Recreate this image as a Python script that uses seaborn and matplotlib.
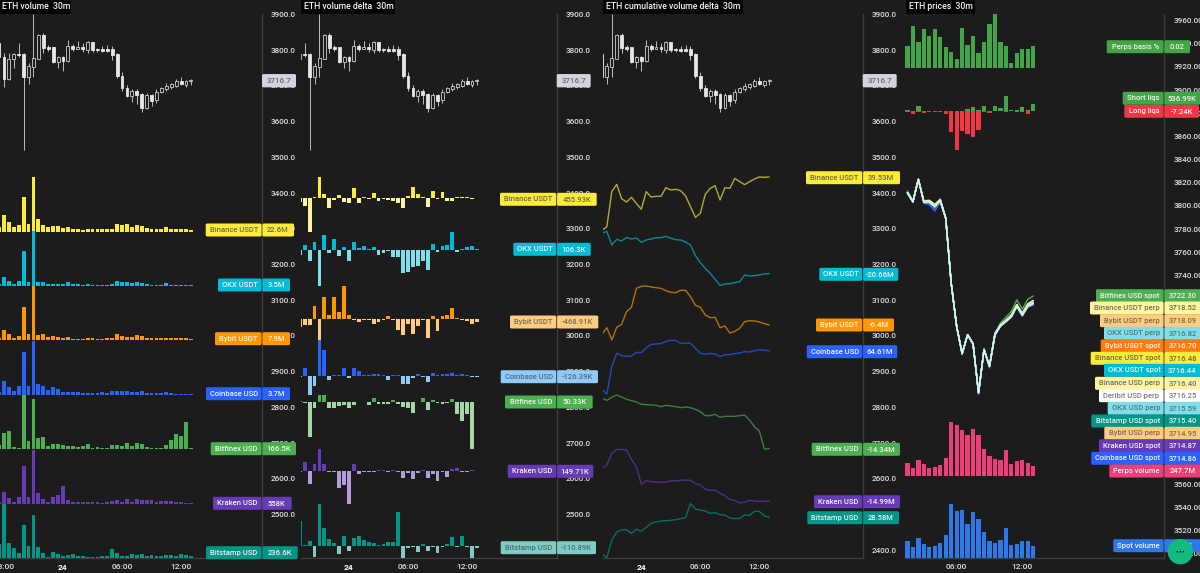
import numpy as np
import pandas as pd
import matplotlib
matplotlib.use("Agg")
import matplotlib.pyplot as plt
from matplotlib import font_manager
from matplotlib.patches import FancyBboxPatch, Circle, Rectangle
import seaborn as sns

# ---------- price candles, half-hour index (0 = midnight on the 24th) ----------
candle_t = list(range(-13, 27))
candle_open = [3821,3782,3720,3775,3790,3790,3726,3754,3777,3843,3808,3808,3768,3782,3770,3812,3805,3810,3801,3822,
               3803,3803,3803,3804,3789,3728,3693,3672,3687,3678,3637,3674,3660,3682,3691,3696,3700,3713,3703,3714]
candle_close = [3780,3721,3775,3789,3786,3726,3756,3778,3843,3806,3805,3767,3782,3771,3812,3805,3809,3803,3822,3801,
                3800,3799,3799,3788,3728,3693,3672,3687,3676,3637,3676,3659,3683,3694,3700,3706,3713,3705,3714,3716.7]
candle_high = [3824,3792,3793,3793,3821,3792,3764,3902,3846,3848,3815,3810,3785,3784,3829,3817,3825,3820,3827,3824,
               3807,3813,3815,3812,3792,3738,3703,3691,3691,3681,3679,3678,3691,3698,3709,3709,3719,3724,3717,3720]
candle_low = [3780,3698,3717,3750,3780,3521,3706,3726,3775,3793,3799,3765,3750,3742,3768,3798,3803,3796,3793,3796,
              3796,3795,3795,3773,3723,3686,3668,3655,3650,3627,3636,3644,3651,3679,3687,3691,3696,3702,3698,3702]

# ---------- traded volume per venue ----------
vol_binance = [52,200,112,52,80,412,92,652,148,80,52,68,68,40,60,36,28,20,36,28,28,28,28,36,88,80,92,60,80,72,40,36,36,36,60,28,28,32,32,22.6]
vol_okx = [10,50,28,8,28,208,24,326,24,22,12,12,12,8,24,10,12,6,10,4,4,4,4,10,28,22,22,18,20,16,8,4,4,4,14,4,4,4,4,3.5]
vol_bybit = [14,60,36,10,24,196,34,326,28,34,20,24,20,12,16,8,6,6,14,12,8,6,10,14,34,24,20,16,30,24,14,12,12,12,14,10,10,10,10,7.9]
vol_coinbase = [10,42,23,13,28,129,27,163,32,27,15,23,17,10,10,10,10,5,7,7,7,8,6,12,12,12,12,10,10,12,7,5,5,7,8,5,4,4,4,3.7]
vol_bitfinex = [650,2350,2650,250,150,8100,1250,7450,1700,1800,500,750,750,600,500,400,300,450,750,200,250,200,200,600,600,500,950,400,850,700,300,100,100,200,650,1350,2200,1950,4000,166.5]
vol_kraken = [1400,7400,3400,1000,4000,23000,4200,32800,6600,3200,1200,4400,5400,10800,2400,1000,1000,1000,1200,1200,1000,800,1000,1600,2200,1400,2800,1400,3200,2200,2200,2400,1000,1600,2000,1600,1200,1400,800,558]
vol_bitstamp = [2050,8200,2200,1550,700,4950,1800,6450,1650,700,200,850,550,300,500,550,300,250,200,200,200,250,250,1400,800,300,250,550,400,650,350,450,250,250,500,450,300,650,400,236.6]

# ---------- volume delta per venue, thousands ----------
delta_t = list(range(-10, 27))
delta_binance = [-2000,-4600,-20000,1000,12600,2600,-6000,-1200,2000,-2400,-3000,6200,-2600,600,-400,3000,-1400,-400,-800,-1600,-2800,-5600,1200,6600,2400,800,-5200,4600,-600,4000,-1600,-1800,1000,600,600,-600,455.93]
delta_okx = [-750,750,-1650,1200,-5350,2300,-500,1600,-900,400,-1650,1200,350,600,150,500,-700,-500,-150,-1000,-1000,-3400,-3250,-2500,-2350,-1650,-3000,850,-250,600,700,2700,-300,150,400,600,106.3]
delta_bybit = [-1250,-900,-900,2000,-3250,3250,600,3250,1100,4900,600,-100,-400,-150,-150,-700,-450,-200,500,-100,-1600,-2400,-700,-2200,-1000,-100,-2800,400,-1800,400,600,1700,200,-100,-300,-700,-468.91]
delta_coinbase = [-150,1200,-2850,-1450,5400,3900,-600,150,100,1200,-250,1200,750,100,100,300,250,100,-600,100,100,-1250,-1250,-250,300,-200,-850,500,200,300,300,400,100,300,200,-150,-126.39]
delta_bitfinex = [125,-25,-2575,-450,550,550,-425,-425,-300,-200,-450,-200,25,25,-200,300,-150,-150,-150,150,-150,-350,-400,-800,25,350,-600,200,-75,-100,-75,225,-875,-1425,-875,-3500,50.33]
delta_kraken = [-200,2700,-4000,2000,6500,2000,-200,-200,-5000,-4300,-10000,2000,-800,-200,-200,-200,400,200,-200,400,-200,-2200,-700,-2400,-700,200,-2000,-1000,-3000,-200,-1800,600,800,-300,-200,200,149.71]
delta_bitstamp = [1500,60,280,-700,2480,1060,400,140,-500,560,-300,460,600,360,240,160,40,120,200,200,2040,-760,-120,-100,-360,120,-300,-100,-460,-100,120,500,-80,600,-60,-760,-110.89]

# ---------- cumulative volume delta per venue, millions ----------
cvd_t = list(range(-8, 27))
cvd_binance = [-40.5,-35,17.5,28.5,7,2,9,0,-9,17.5,9.5,10.5,10.5,23.5,20,21,19,11,-5,-21,-15,13.5,22.5,26.5,5,23.5,22.5,37.5,32.5,28,32.5,36.5,39.5,39,39.53]
cvd_okx = [9.5,11,0.75,5,3.75,6.5,5.25,6,2.75,4.5,5.25,6.25,6.25,7.25,5.75,4.75,4.5,3,0.75,-7.25,-12.5,-16.75,-20.5,-25,-29.5,-28.5,-28.25,-27.5,-26.75,-21.75,-22.5,-22.25,-21.75,-21,-20.66]
cvd_bybit = [-9.2,-7.2,-10.9,-7.1,-6.2,-2.4,-1.1,4.6,5.2,5.3,5,4.8,4.6,3.9,3.4,3.3,4,4,2.1,-0.5,-1.1,-3.4,-4.2,-4.1,-7.2,-6.7,-8.8,-8.3,-7.4,-5.4,-5.1,-5.2,-5.5,-6,-6.4]
cvd_coinbase = [41.4,38.6,55,63,61.6,61.2,61.4,63.6,63.4,66.4,68.4,68.6,68.8,70.2,70.8,70.8,69,69.2,69,66,63,62.4,63,62.6,61,62.2,62.2,62.8,63.2,64,63.8,64.6,65.2,64.8,64.61]
cvd_bitfinex = [0.76,0.16,1.06,1.76,1.16,0.46,0.06,-0.34,-1.04,-1.14,-1.24,-1.34,-1.74,-1.34,-1.54,-1.74,-2.04,-1.84,-2.04,-2.54,-3.24,-4.44,-4.44,-4.04,-4.94,-4.64,-4.64,-4.64,-4.44,-4.24,-5.74,-7.74,-9.04,-14.44,-14.34]
cvd_kraken = [-5.19,-4.19,-0.69,0.41,0.51,0.31,-2.49,-4.69,-9.99,-8.89,-9.19,-9.29,-9.39,-9.29,-8.99,-8.89,-8.79,-8.69,-8.79,-9.79,-10.19,-11.49,-11.79,-11.69,-12.69,-13.39,-14.59,-14.79,-15.59,-15.29,-14.79,-14.99,-15.09,-15.09,-14.99]
cvd_bitstamp = [17.58,16.48,21.78,24.18,24.78,24.88,23.78,24.98,24.38,25.58,26.78,27.18,27.48,27.58,27.68,27.88,28.18,28.48,32.68,31.08,30.78,30.48,29.78,29.98,29.38,29.28,28.38,28.18,28.28,29.28,29.18,30.38,30.38,28.98,28.58]

# ---------- market-wide series on the prices pane ----------
market_t = list(range(3, 27))
basis_pct = [0.0201,0.0378,0.0231,0.0354,0.0285,0.0354,0.0276,0.0186,0.0144,0.0078,0.036,0.0207,0.0285,0.0135,0.0237,0.0399,0.0486,0.0231,0.0201,0.0045,0.0135,0.0174,0.0168,0.02]
short_liqs = [50,25,375,25,25,25,25,25,0,0,0,125,275,50,350,25,350,250,1125,50,100,300,50,536.99]
long_liqs = [-50,-200,-50,-125,-100,-100,-50,-200,-1600,-2900,-1500,-1750,-1950,-1450,-50,-150,-25,-25,-50,-25,-75,-100,-200,-7.24]
perps_volume = [320,200,384,304,192,224,264,432,1296,1232,1096,992,1128,976,640,480,416,400,624,288,368,400,320,247.7]
spot_volume = [159,102,180,129,99,114,135,210,489,426,435,306,414,354,234,156,141,168,276,120,126,153,159,111]

price_bitfinex_spot = [3813,3804.5,3823.5,3803.5,3804,3800,3805,3789,3733,3696,3672.5,3689,3681,3638.5,3676,3662,3690,3699,3704,3709,3719,3711,3719.5,3722.3]
price_binance_usdt_perp = [3811.5,3804,3823,3804,3804.5,3801,3805.5,3789.5,3733.5,3696,3672.6,3689,3681,3639,3676.5,3662,3690,3697.5,3701.5,3706,3715,3707.5,3715.5,3718.52]
price_bybit_usdt_perp = [3811.8,3804,3823,3804.5,3805,3801.5,3806,3790,3733.5,3696,3672.5,3689,3681,3639,3676.5,3662,3690,3697.5,3701.5,3706,3715,3707.5,3715.5,3718.09]
price_okx_usdt_perp = [3811.5,3803.5,3823,3803.5,3803.5,3799.5,3804.5,3789.5,3733.5,3696,3672.5,3689,3681,3638.5,3676,3661.5,3690.5,3697,3700.5,3705,3714,3706.5,3714,3716.82]
price_bybit_usdt_spot = [3811.6,3804,3823,3804,3804,3800,3805,3789.5,3733.5,3696,3672.6,3689,3681,3638.7,3676,3661.6,3690,3697,3700.5,3705,3714,3706.2,3714,3716.7]
price_binance_usdt_spot = [3811.5,3803.8,3823,3803.5,3803.5,3799.5,3804.6,3789.4,3733.4,3696,3672.6,3689,3681,3638.7,3676,3661.6,3689.5,3696.8,3700.4,3704.8,3714,3706,3714,3716.48]
price_okx_usdt_spot = [3811.5,3803.7,3823,3803.2,3803.4,3799.4,3804.6,3789.4,3733.4,3696,3672.6,3689,3681,3638.7,3676,3661.6,3689.2,3696.8,3700.4,3704.7,3713.9,3706,3713.9,3716.44]
price_binance_usd_perp = [3811.6,3804,3823,3803.5,3804,3800,3805,3789.5,3733.5,3696,3672.6,3689,3681,3638.8,3676.2,3661.8,3689.5,3697,3700.6,3704.9,3714,3706.1,3714,3716.4]
price_deribit_usd_perp = [3811.5,3803.7,3823,3803.2,3803.4,3799.4,3804.6,3789.4,3733.4,3696,3672.6,3689,3681,3638.7,3676,3661.6,3689,3696.7,3700.4,3704.7,3713.9,3706,3713.9,3716.25]
price_okx_usd_perp = [3811.4,3803.5,3823,3803,3803.2,3799.2,3804.5,3789.3,3733.3,3696,3672.5,3689,3681,3638.6,3676,3661.5,3688.9,3696.5,3700.2,3704.5,3713.6,3705.7,3713.5,3715.59]
price_bitstamp_spot = [3811,3803.3,3822.8,3802.8,3802.8,3798,3804.2,3789.2,3733.2,3696,3672.4,3688.8,3680.8,3638.5,3675.8,3661.2,3688.6,3696.2,3700,3704.2,3713.2,3705.4,3713.2,3715.4]
price_bybit_usd_perp = [3811.3,3803.4,3822.9,3803,3803,3799.4,3804.3,3789.2,3733.2,3696,3672.4,3688.8,3680.9,3638.5,3675.8,3661.3,3688.7,3696.2,3700,3704.2,3713.2,3705.3,3713,3714.95]
price_kraken_spot = [3811,3803,3822.5,3802.5,3801,3795.5,3803,3789,3733,3695.8,3672.2,3688.5,3680.5,3637,3675.5,3660,3688,3696,3699.8,3704,3713,3705,3712.8,3714.87]
price_coinbase_spot = [3811,3803,3822.6,3802.6,3801.5,3796.5,3803.5,3789,3733,3695.8,3672.2,3688.6,3680.6,3638,3675.6,3661,3688.3,3696,3699.8,3704,3713,3705,3712.8,3714.86]

# ---------- styling ----------
BG = "#1c1c1c"
RULE = "#3c3c3c"
TICK = "#dcdcdc"
sns.set_theme(style="dark", rc={"figure.facecolor": BG, "axes.facecolor": BG, "savefig.facecolor": BG})

installed = {f.name for f in font_manager.fontManager.ttflist}
if "Liberation Sans Narrow" in installed:
    FONT, FS = "Liberation Sans Narrow", 1.0
else:
    FONT, FS = "Roboto", 0.84
plt.rcParams["font.family"] = [FONT, "DejaVu Sans"]
plt.rcParams["font.weight"] = 500

YELLOW, YELLOW_L = "#fdeb3a", "#fff59d"
CYAN, CYAN_L = "#00bcd4", "#80deea"
ORANGE, ORANGE_L = "#ff9800", "#ffcc80"
BLUE, BLUE_L = "#2962ff", "#90caf9"
GREEN, GREEN_L = "#4caf50", "#a5d6a7"
PURPLE, PURPLE_L = "#673ab7", "#b39ddb"
TEAL, TEAL_L = "#009688", "#80cbc4"
DARK_INK, LIGHT_INK = "#6e6b45", "#f2f2f2"

W, H = 1200, 573
fig = plt.figure(figsize=(W / 100, H / 100), dpi=100)


def px_axes(left, top, right, bottom, z=5):
    ax = fig.add_axes([left / W, 1 - bottom / H, (right - left) / W, (bottom - top) / H], zorder=z)
    return ax


def pane(left, top, right, bottom, xlim, ylim):
    ax = px_axes(left, top, right, bottom, z=10)
    ax.patch.set_visible(False)
    ax.set_axis_off()
    ax.set_xlim(*xlim)
    ax.set_ylim(*ylim)
    return ax


def signed_bars(ax, t, values, up, down, xlim, ylim):
    frame = pd.DataFrame({"t": t, "v": values})
    frame["side"] = np.where(frame["v"] >= 0, "up", "down")
    sns.barplot(data=frame, x="t", y="v", hue="side", hue_order=["up", "down"],
                palette={"up": up, "down": down}, native_scale=True, dodge=False,
                width=0.78, saturation=1, errorbar=None, legend=False, linewidth=0,
                edgecolor="none", ax=ax)
    ax.set_xlim(*xlim)
    ax.set_ylim(*ylim)
    ax.set_axis_off()


def candles(ax):
    ax.vlines(candle_t, candle_low, candle_high, color="#bdbdc2", lw=0.7, zorder=3)
    for t, o, c in zip(candle_t, candle_open, candle_close):
        rising = c >= o
        ax.bar(t, abs(c - o), bottom=min(o, c), width=0.58, zorder=4,
               color=BG if rising else "#e6e6ea", edgecolor="#cfcfd4" if rising else "#e6e6ea", linewidth=0.6)


def main_axes(left, right, x0, dx, ylim, ticks, fmt, xticks, xlabels):
    ax = px_axes(left, 14, right, 558, z=5)
    xlim = ((left - x0) / dx, (right - x0) / dx)
    ax.set_xlim(*xlim)
    ax.set_ylim(*ylim)
    for side in ("top", "left"):
        ax.spines[side].set_visible(False)
    for side in ("right", "bottom"):
        ax.spines[side].set_visible(True)
        ax.spines[side].set_color(RULE)
        ax.spines[side].set_linewidth(1.0)
    ax.yaxis.tick_right()
    ax.set_yticks(ticks)
    ax.set_yticklabels([fmt % v for v in ticks])
    ax.set_xticks(xticks)
    ax.set_xticklabels(xlabels)
    ax.tick_params(axis="y", length=0, pad=6.5, labelsize=7.0 * FS, labelcolor=TICK)
    ax.tick_params(axis="x", length=0, pad=4.5, labelsize=7.2 * FS, labelcolor="#e0e0e0")
    ax.grid(False)
    for lab in ax.get_xticklabels():
        if lab.get_text() == "24":
            lab.set_fontweight("bold")
            lab.set_color("#ffffff")
    return ax, xlim


def price_ylim():
    return (3800 - (558 - 50.3) / 35.7 * 100, 3800 + (50.3 - 14) / 35.7 * 100)


price_ticks = list(range(2400, 4000, 100))
venues = [YELLOW, CYAN, ORANGE, BLUE, GREEN, PURPLE, TEAL]
venues_l = [YELLOW_L, CYAN_L, ORANGE_L, BLUE_L, GREEN_L, PURPLE_L, TEAL_L]

# ---------- panel 1: volume ----------
x0_a, dx_a = 63.0, 4.92
ax_a, xlim_a = main_axes(0, 262, x0_a, dx_a, price_ylim(), price_ticks, "%.1f",
                         [-12, 0, 12, 24], ["18:00", "24", "06:00", "12:00"])
candles(ax_a)
vol_sets = [vol_binance, vol_okx, vol_bybit, vol_coinbase, vol_bitfinex, vol_kraken, vol_bitstamp]
vol_base = [231.7, 285.7, 340, 395, 449, 504, 558]
vol_per_px = [12, 6, 6, 3, 150, 600, 150]
for vals, base, scale, col in zip(vol_sets, vol_base, vol_per_px, venues):
    lim = (0, 54.5 * scale)
    ax = pane(0, base - 54.5, 262, base, xlim_a, lim)
    signed_bars(ax, candle_t, vals, col, col, xlim_a, lim)

# ---------- panel 2: volume delta ----------
x0_b, dx_b = 349.0, 4.92
ax_b, xlim_b = main_axes(301, 556.7, x0_b, dx_b, price_ylim(), price_ticks, "%.1f",
                         [0, 12, 24], ["24", "06:00", "12:00"])
candles(ax_b)
delta_sets = [delta_binance, delta_okx, delta_bybit, delta_coinbase, delta_bitfinex, delta_kraken, delta_bitstamp]
delta_zero = [198.3, 250, 319, 376, 402.3, 471, 545.7]
delta_per_px = [600, 150, 150, 150, 75, 300, 60]
for vals, zero, scale, col, pale in zip(delta_sets, delta_zero, delta_per_px, venues, venues_l):
    lim = (-60 * scale, 60 * scale)
    ax = pane(301, zero - 60, 556.7, zero + 60, xlim_b, lim)
    signed_bars(ax, delta_t, vals, col, pale, xlim_b, lim)

# ---------- panel 3: cumulative volume delta ----------
x0_c, dx_c = 641.3, 4.92
ax_c, xlim_c = main_axes(603, 862.7, x0_c, dx_c, price_ylim(), price_ticks, "%.1f",
                         [0, 12, 24], ["24", "06:00", "12:00"])
candles(ax_c)
cvd_sets = [cvd_binance, cvd_okx, cvd_bybit, cvd_coinbase, cvd_bitfinex, cvd_kraken, cvd_bitstamp]
cvd_boxes = [(170, 236.67, -50, 50), (226.67, 293.33, -35.5, 14.5), (283.33, 343.33, -11.9, 6.1),
             (336.67, 396.67, 37, 73), (390, 453.33, -15.74, 3.26), (446.67, 506.67, -16.69, 1.31),
             (500, 560, 15.78, 33.78)]
for vals, (top, bot, lo, hi), col in zip(cvd_sets, cvd_boxes, venues):
    ax = pane(603, top, 862.7, bot, xlim_c, (lo, hi))
    sns.lineplot(x=cvd_t, y=vals, color=col, alpha=0.68, lw=1.0, errorbar=None, estimator=None, ax=ax)
    ax.set_xlim(*xlim_c)
    ax.set_ylim(lo, hi)
    ax.set_axis_off()

# ---------- panel 4: prices ----------
dx_d = 5.47
x0_d = 890 + 200 / 3 - 12 * dx_d
ylim_d = (3800 - (558 - 206) / 1.1585, 3800 + (206 - 14) / 1.1585)
ax_d, xlim_d = main_axes(905, 1164, x0_d, dx_d, ylim_d, list(range(3500, 3980, 20)), "%.2f",
                         [12, 24], ["06:00", "12:00"])
ax_d.tick_params(axis="y", pad=7)

price_lines = [(price_kraken_spot, PURPLE), (price_coinbase_spot, BLUE), (price_bitstamp_spot, TEAL),
               (price_bitfinex_spot, GREEN), (price_bybit_usdt_spot, ORANGE), (price_binance_usdt_spot, YELLOW),
               (price_okx_usdt_spot, CYAN), (price_bybit_usdt_perp, ORANGE_L), (price_binance_usdt_perp, YELLOW_L),
               (price_binance_usd_perp, YELLOW_L), (price_bybit_usd_perp, ORANGE_L),
               (price_deribit_usd_perp, "#ffffff"), (price_okx_usdt_perp, CYAN_L), (price_okx_usd_perp, CYAN_L)]
for vals, col in price_lines:
    sns.lineplot(x=market_t, y=vals, color=col, lw=1.0, errorbar=None, estimator=None, ax=ax_d, zorder=3)
sns.lineplot(x=market_t, y=price_deribit_usd_perp, color="#ffffff", lw=0.6, errorbar=None, estimator=None, ax=ax_d, zorder=3)
ax_d.set_xlim(*xlim_d)
ax_d.set_ylim(*ylim_d)
ax_d.set_xlabel("")
ax_d.set_ylabel("")

ax = pane(905, 14, 1164, 68, xlim_d, (0, 0.0486))
signed_bars(ax, market_t, basis_pct, "#43a548", "#43a548", xlim_d, (0, 0.0486))

liq_lim = (-49 * 75, 51 * 75)
ax = pane(905, 60, 1164, 160, xlim_d, liq_lim)
liq_frame = pd.DataFrame({"t": market_t * 2, "v": short_liqs + long_liqs,
                          "side": ["short"] * len(short_liqs) + ["long"] * len(long_liqs)})
sns.barplot(data=liq_frame, x="t", y="v", hue="side", hue_order=["short", "long"],
            palette={"short": "#43a548", "long": "#f23645"}, native_scale=True, dodge=False,
            width=0.78, saturation=1, errorbar=None, legend=False, linewidth=0, edgecolor="none", ax=ax)
ax.set_xlim(*xlim_d)
ax.set_ylim(*liq_lim)
ax.set_axis_off()

ax = pane(905, 422, 1164, 476.3, xlim_d, (0, 1296))
signed_bars(ax, market_t, perps_volume, "#ec3f78", "#ec3f78", xlim_d, (0, 1296))
ax = pane(905, 504, 1164, 558.3, xlim_d, (0, 489))
signed_bars(ax, market_t, spot_volume, "#2f78e8", "#2f78e8", xlim_d, (0, 489))

# ---------- overlay: titles, price tags, series tags ----------
over = fig.add_axes([0, 0, 1, 1], zorder=50)
over.patch.set_visible(False)
over.set_axis_off()
over.set_xlim(0, W)
over.set_ylim(H, 0)


def title(x0, x1, tx, text):
    over.add_patch(Rectangle((x0, 0), x1 - x0, 13.5, color="#050505", lw=0))
    over.text(tx, 6.9, text, color="#f4f4f4", fontsize=7.4 * FS, va="center", ha="left")


def box(x0, x1, y, fill, h=13.0):
    over.add_patch(FancyBboxPatch((x0 + 1, y - h / 2 + 1), x1 - x0 - 2, h - 2,
                                  boxstyle="round,pad=1,rounding_size=1.5", fc=fill, ec="none", lw=0))


def tag(axis_x, left, right, y, name, value, fill, ink):
    box(left, axis_x - 0.4, y, fill)
    box(axis_x + 0.4, right, y, fill)
    over.text((left + axis_x) / 2, y, name, color=ink, fontsize=6.5 * FS, va="center", ha="center")
    over.text((axis_x + right) / 2, y + 0.3, value, color=ink, fontsize=6.5 * FS, va="center", ha="center")


title(0, 71, 1.5, "ETH volume  30m")
title(301, 395, 304, "ETH volume delta  30m")
title(603, 743, 606, "ETH cumulative volume delta  30m")
title(906, 975, 908.7, "ETH prices  30m")

for axis_x in (262, 556.7, 862.7):
    box(axis_x, axis_x + 34, 80.7, "#d1d4dc", h=13.3)
    over.text(axis_x + 17, 81, "%.1f" % candle_close[-1], color="#666a70", fontsize=6.8 * FS, va="center", ha="center")

names = ["Binance USDT", "OKX USDT", "Bybit USDT", "Coinbase USD", "Bitfinex USD", "Kraken USD", "Bitstamp USD"]
fills = venues
inks = [DARK_INK, LIGHT_INK, LIGHT_INK, LIGHT_INK, LIGHT_INK, LIGHT_INK, LIGHT_INK]

tags_a = [(205.7, 294, 230, "22.6M"), (218, 290, 285, "3.5M"), (215, 290, 338.7, "7.9M"), (206, 290, 393.7, "3.7M"),
          (210.7, 296, 448.7, "166.5K"), (213, 291.7, 503.3, "558K"), (206, 297.7, 552.7, "236.6K")]
for n, f, i, (l, r, y, v) in zip(names, fills, inks, tags_a):
    tag(262, l, r, y, n, v, f, i)

tags_b = [(500, 596.7, 199.3, "455.93K", YELLOW, DARK_INK), (513.3, 590.7, 249.3, "106.3K", CYAN, LIGHT_INK),
          (510, 598.3, 322, "-468.91K", ORANGE_L, "#7a6a50"), (500.7, 598, 376.7, "-126.39K", BLUE_L, "#566a80"),
          (505, 592.7, 402, "50.33K", GREEN, LIGHT_INK), (507.7, 593.3, 471.3, "149.71K", PURPLE, LIGHT_INK),
          (500.7, 596, 547.7, "-110.89K", TEAL_L, "#4c6f6c")]
for n, (l, r, y, v, f, i) in zip(names, tags_b):
    tag(556.7, l, r, y, n, v, f, i)

tags_c = [(806, 900, 177.7, "39.53M"), (819.3, 898.3, 274.3, "-20.66M"), (816, 894, 325, "-6.4M"), (806.7, 897.3, 351.7, "64.61M"),
          (811.7, 900, 449.3, "-14.34M"), (814, 900, 501.7, "-14.99M"), (807.3, 899, 517.7, "28.58M")]
for n, f, i, (l, r, y, v) in zip(names, fills, inks, tags_c):
    tag(862.7, l, r, y, n, v, f, i)

PALE_INK = "#6c6f60"
tags_d = [
    (1106.7, 1190, 46.7, "Perps basis %", "0.02", "#43a548", LIGHT_INK),
    (1122.7, 1200, 98.3, "Short liqs", "536.99K", "#43a548", LIGHT_INK),
    (1124.3, 1199, 111.3, "Long liqs", "-7.24K", "#f23645", LIGHT_INK),
    (1096, 1201, 295.7, "Bitfinex USD spot", "3722.30", GREEN, LIGHT_INK),
    (1090, 1201, 308, "Binance USDT perp", "3718.52", YELLOW_L, PALE_INK),
    (1100, 1201, 320.7, "Bybit USDT perp", "3718.09", ORANGE_L, "#7a6a50"),
    (1104, 1201, 333.3, "OKX USDT perp", "3716.82", CYAN_L, "#55757a"),
    (1100.7, 1201, 346, "Bybit USDT spot", "3716.70", "#ff7c0f", LIGHT_INK),
    (1090.7, 1201, 358.3, "Binance USDT spot", "3716.48", YELLOW, DARK_INK),
    (1104, 1201, 370.3, "OKX USDT spot", "3716.44", CYAN, LIGHT_INK),
    (1095, 1201, 383.3, "Binance USD perp", "3716.40", YELLOW_L, PALE_INK),
    (1099, 1201, 395.7, "Deribit USD perp", "3716.25", "#ffffff", "#7c7c7c"),
    (1107.7, 1201, 408.3, "OKX USD perp", "3715.59", CYAN_L, "#55757a"),
    (1091.3, 1201, 421, "Bitstamp USD spot", "3715.40", TEAL, LIGHT_INK),
    (1104.3, 1201, 433.3, "Bybit USD perp", "3714.95", ORANGE_L, "#7a6a50"),
    (1099, 1201, 445.7, "Kraken USD spot", "3714.87", PURPLE, LIGHT_INK),
    (1091.3, 1201, 458.3, "Coinbase USD spot", "3714.86", BLUE, LIGHT_INK),
    (1109.3, 1201, 471, "Perps volume", "247.7M", "#ec3f78", LIGHT_INK),
    (1113.3, 1201, 545.7, "Spot volume", "111M", "#2f78e8", LIGHT_INK),
]
for l, r, y, n, v, f, i in tags_d:
    tag(1164, l, r, y, n, v, f, i)

# floating action button in the corner
over.add_patch(Circle((1180.3, 551.7), 12.7, fc="#12b981", ec="none", zorder=6))
for dx in (-3, 0, 3):
    over.add_patch(Circle((1180.3 + dx, 551.7), 0.8, fc="#0a0a0a", ec="none", zorder=7))

fig.savefig("out.png", dpi=100)
